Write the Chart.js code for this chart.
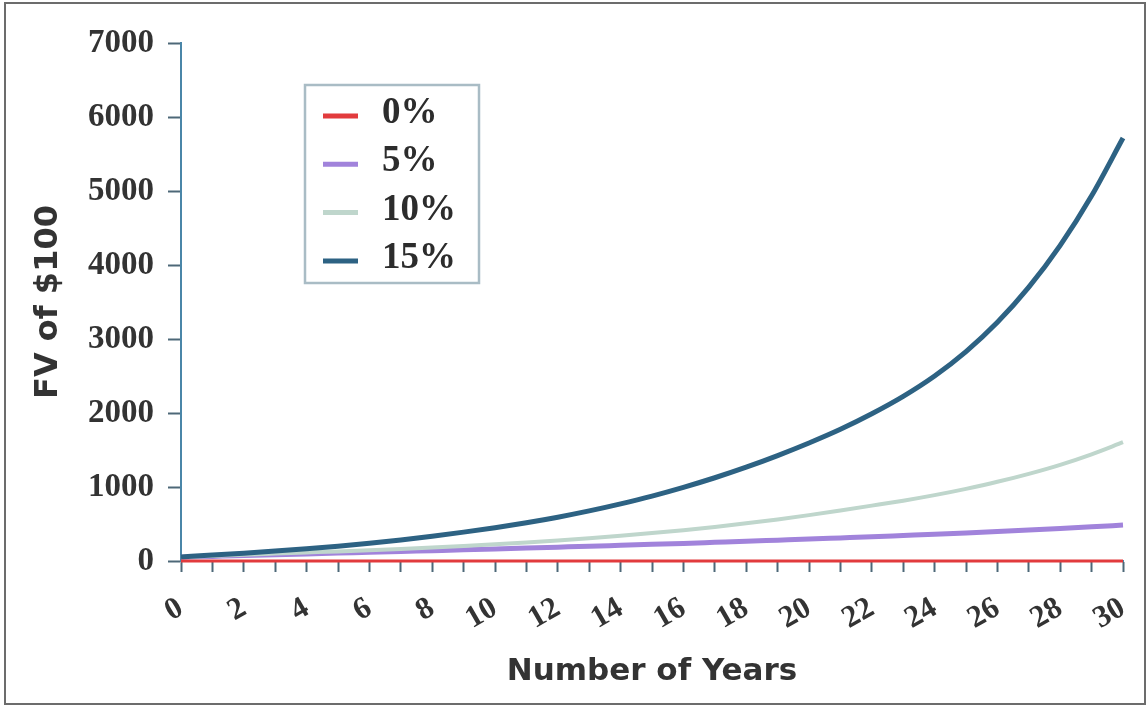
<!DOCTYPE html>
<html>
<head>
<meta charset="utf-8">
<title>FV of $100</title>
<script src="https://cdn.jsdelivr.net/npm/chart.js@4.4.1/dist/chart.umd.min.js"></script>
<style>
  html, body { margin: 0; padding: 0; background: #ffffff; }
  #wrap { width: 1147px; height: 706px; position: relative; }
</style>
</head>
<body>
<div id="wrap"><canvas id="fv" width="1147" height="706"></canvas></div>
<script>
// Years on the horizontal axis
const years = [0, 1, 2, 3, 4, 5, 6, 7, 8, 9, 10, 11, 12, 13, 14, 15, 16, 17, 18, 19, 20,
               21, 22, 23, 24, 25, 26, 27, 28, 29, 30];

// Interest rate of each curve
const rateLabels = ['0%', '5%', '10%', '15%'];

// Future value of $100 for each rate, one value per year
const fv0  = [0, 0, 0, 0, 0, 0, 0, 0, 0, 0, 0, 0, 0, 0, 0, 0, 0, 0, 0, 0, 0,
              0, 0, 0, 0, 0, 0, 0, 0, 0, 0];
const fv5  = [50, 62, 74, 85, 96, 107, 118, 129, 140, 151, 163, 175, 187, 199, 212, 225, 238, 252, 266, 281, 296,
              312, 328, 345, 362, 380, 399, 419, 440, 462, 486];
const fv10 = [50, 68, 85, 100, 115, 130, 146, 163, 182, 203, 226, 251, 278, 308, 341, 377, 417, 461, 509, 562, 620,
              683, 748, 815, 890, 975, 1070, 1178, 1300, 1442, 1605];
const fv15 = [55, 80, 106, 134, 165, 200, 240, 285, 335, 390, 450, 517, 592, 677, 772, 877, 995, 1125, 1268, 1425, 1595,
              1780, 1990, 2225, 2500, 2830, 3225, 3700, 4265, 4935, 5716];

// Value axis range and step
const yMin = 0, yMax = 7000, yStep = 1000;

const seriesColors = ['#e23b3d', '#a183db', '#bfd6cc', '#2d6283'];
const seriesWidths = [3, 5, 4, 5];
const seriesOrder  = [0, 3, 2, 1];
const seriesValues = [fv0, fv5, fv10, fv15];

const serifBold = '"Liberation Serif", "Times New Roman", serif';
const sansBold  = '"DejaVu Sans", Verdana, sans-serif';
const inkColor  = '#333333';
const axisBlue  = '#4a86a8';
const tickGray  = '#4d6878';

// White page with a thin grey frame around the figure
const pageFrame = {
  id: 'pageFrame',
  beforeDraw(chart) {
    const { ctx, width, height } = chart;
    ctx.save();
    ctx.fillStyle = '#ffffff';
    ctx.fillRect(0, 0, width, height);
    ctx.restore();
  },
  afterDraw(chart) {
    const { ctx } = chart;
    ctx.save();
    ctx.strokeStyle = '#6c6c6c';
    ctx.lineWidth = 2;
    ctx.strokeRect(5, 3, 1140, 701);
    ctx.restore();
  }
};

// Boxed legend placed inside the plot area
const boxedLegend = {
  id: 'boxedLegend',
  afterDraw(chart, args, opts) {
    const { ctx, chartArea } = chart;
    const x = chartArea.left + opts.offsetX;
    const y = chartArea.top + opts.offsetY;
    ctx.save();
    ctx.fillStyle = '#ffffff';
    ctx.fillRect(x, y, opts.width, opts.height);
    ctx.strokeStyle = opts.borderColor;
    ctx.lineWidth = 2.5;
    ctx.strokeRect(x, y, opts.width, opts.height);
    chart.data.datasets.forEach((ds, i) => {
      const cy = y + opts.firstRow + i * opts.rowGap;
      ctx.strokeStyle = ds.borderColor;
      ctx.lineWidth = 5;
      ctx.beginPath();
      ctx.moveTo(x + 18, cy);
      ctx.lineTo(x + 53, cy);
      ctx.stroke();
      ctx.fillStyle = '#2c2c2c';
      ctx.font = 'bold 37px ' + serifBold;
      ctx.textBaseline = 'alphabetic';
      ctx.textAlign = 'left';
      ctx.fillText(ds.label, x + 77, cy + 7);
    });
    ctx.restore();
  }
};

const datasets = rateLabels.map((label, i) => ({
  label: label,
  data: seriesValues[i],
  borderColor: seriesColors[i],
  backgroundColor: seriesColors[i],
  borderWidth: seriesWidths[i],
  pointRadius: 0,
  pointHoverRadius: 0,
  cubicInterpolationMode: 'monotone',
  fill: false,
  clip: false,
  order: seriesOrder[i]
}));

new Chart(document.getElementById('fv'), {
  type: 'line',
  data: { labels: years, datasets: datasets },
  options: {
    responsive: false,
    animation: false,
    events: [],
    layout: { padding: { left: 5, top: 43, right: 24, bottom: 0 } },
    plugins: {
      legend: { display: false },
      tooltip: { enabled: false },
      boxedLegend: {
        offsetX: 124, offsetY: 42, width: 174, height: 198,
        firstRow: 31, rowGap: 48.3, borderColor: '#a9bcc5'
      }
    },
    scales: {
      x: {
        type: 'category',
        offset: false,
        afterFit(scale) {
          scale.height = 145;
          scale.paddingLeft = 0;
          scale.paddingRight = 0;
        },
        border: { display: true, color: axisBlue, width: 2 },
        grid: {
          drawOnChartArea: false,
          drawTicks: true,
          tickLength: 11,
          tickWidth: 2,
          tickColor: tickGray
        },
        ticks: {
          autoSkip: false,
          minRotation: 30,
          maxRotation: 30,
          padding: 18,
          color: inkColor,
          font: { family: serifBold, size: 31, weight: 'bold' },
          callback(value, index) {
            const yr = years[index];
            return yr % 2 === 0 ? String(yr) : '';
          }
        },
        title: {
          display: true,
          text: 'Number of Years',
          color: inkColor,
          font: { family: sansBold, size: 31, weight: 'bold' },
          padding: { top: 0, bottom: 15 }
        }
      },
      y: {
        type: 'linear',
        min: yMin,
        max: yMax,
        afterFit(scale) { scale.width = 176; },
        border: { display: true, color: axisBlue, width: 2 },
        grid: {
          drawOnChartArea: false,
          drawTicks: true,
          tickLength: 13,
          tickWidth: 2,
          tickColor: tickGray
        },
        ticks: {
          stepSize: yStep,
          padding: 14,
          color: inkColor,
          font: { family: serifBold, size: 33, weight: 'bold' },
          callback(value) { return String(value); }
        },
        title: {
          display: true,
          text: 'FV of $100',
          color: inkColor,
          font: { family: sansBold, size: 32, weight: 'bold' },
          padding: { top: 24, bottom: 0 }
        }
      }
    }
  },
  plugins: [pageFrame, boxedLegend]
});
</script>
</body>
</html>
